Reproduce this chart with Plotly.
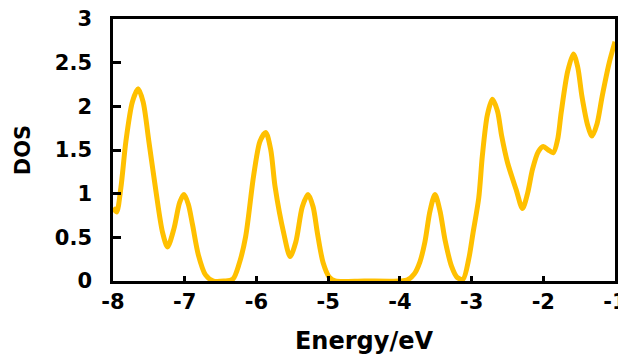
import plotly.graph_objects as go

energy = [-8.00, -7.95, -7.89, -7.82, -7.73, -7.65, -7.58, -7.50, -7.40, -7.31,
          -7.24, -7.15, -7.07, -7.01, -6.95, -6.89, -6.81, -6.71, -6.60, -6.45,
          -6.33, -6.24, -6.15, -6.04, -5.95, -5.87, -5.80, -5.74, -5.62, -5.53,
          -5.45, -5.36, -5.28, -5.21, -5.15, -5.07, -4.98, -4.90, -4.50, -4.00,
          -3.90, -3.80, -3.72, -3.65, -3.58, -3.51, -3.44, -3.37, -3.28, -3.20,
          -3.12, -3.04, -2.98, -2.90, -2.85, -2.78, -2.71, -2.64, -2.58, -2.50,
          -2.38, -2.29, -2.22, -2.15, -2.07, -2.00, -1.93, -1.86, -1.80, -1.75,
          -1.66, -1.58, -1.52, -1.46, -1.38, -1.32, -1.25, -1.18, -1.08, -1.00]
dos = [0.84, 0.79, 1.07, 1.60, 2.05, 2.20, 2.05, 1.60, 1.02, 0.56,
       0.39, 0.60, 0.90, 0.99, 0.88, 0.64, 0.30, 0.07, 0.00, 0.00,
       0.02, 0.20, 0.51, 1.20, 1.60, 1.70, 1.50, 1.08, 0.55, 0.28,
       0.45, 0.85, 0.99, 0.85, 0.55, 0.21, 0.04, 0.00, 0.00, 0.00,
       0.01, 0.08, 0.22, 0.45, 0.80, 0.99, 0.80, 0.47, 0.17, 0.04,
       0.02, 0.25, 0.55, 0.95, 1.43, 1.90, 2.08, 1.95, 1.66, 1.36,
       1.05, 0.83, 1.00, 1.28, 1.48, 1.54, 1.50, 1.47, 1.62, 1.93,
       2.40, 2.60, 2.45, 2.11, 1.78, 1.66, 1.80, 2.11, 2.50, 2.74]

x_ticks = [-8, -7, -6, -5, -4, -3, -2, -1]
x_ticktext = ["-8", "-7", "-6", "-5", "-4", "-3", "-2", "-1"]
y_ticks = [0, 0.5, 1, 1.5, 2, 2.5, 3]
y_ticktext = ["0", "0.5", "1", "1.5", "2", "2.5", "3"]

FONT = "DejaVu Sans"

fig = go.Figure()
fig.add_trace(go.Scatter(
    x=energy, y=dos, mode="lines",
    line=dict(color="#FFC000", width=5, shape="spline", smoothing=0.8),
    showlegend=False,
))

axis_common = dict(
    showline=True, linecolor="black", linewidth=2.5, mirror=True,
    ticks="inside", tickcolor="black", tickwidth=2.5,
    showgrid=False, zeroline=False, automargin=False,
    tickfont=dict(family=FONT, size=21, color="black", weight=700),
    ticklabeloverflow="allow",
)

fig.update_layout(
    width=618, height=355,
    margin=dict(l=113, r=3, t=19, b=74),
    paper_bgcolor="white", plot_bgcolor="white",
    xaxis=dict(
        range=[-8, -1], tickvals=x_ticks, ticktext=x_ticktext,
        ticklen=5, ticklabelstandoff=0,
        title=dict(text="Energy/eV", font=dict(family=FONT, size=24, color="black", weight=700), standoff=27),
        **axis_common,
    ),
    yaxis=dict(
        range=[0, 3], tickvals=y_ticks, ticktext=y_ticktext,
        ticklen=8, ticklabelstandoff=14,
        title=dict(text="DOS", font=dict(family=FONT, size=21, color="black", weight=700), standoff=19),
        **axis_common,
    ),
)

fig.write_html("out.html")
